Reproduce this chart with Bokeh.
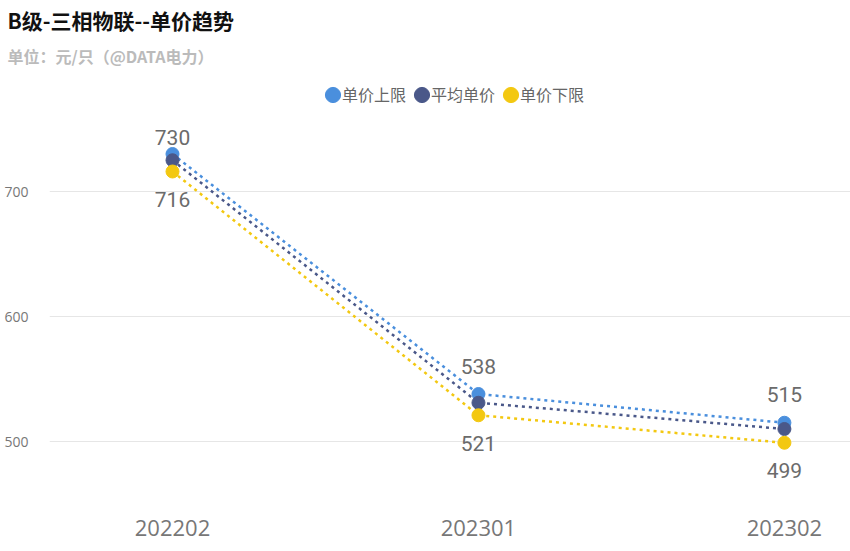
from bokeh.plotting import figure
from bokeh.models import Range1d, FixedTicker, Title, Legend, LegendItem, ColumnDataSource
from bokeh.core.properties import value
from bokeh.embed import file_html
from bokeh.resources import INLINE

periods = ["202202", "202301", "202302"]
upper = [730, 538, 515]
average = [725, 531, 510]
lower = [716, 521, 499]
series_names = ["单价上限", "平均单价", "单价下限"]
colors = ["#4a8fdd", "#4a5889", "#f3c811"]
yticks = [500, 600, 700]

# styling: label offsets in pixels (first upper label pushed down by chart top)
upper_label_offsets = [-17, -28, -28]
lower_label_offsets = [28, 28, 28]

CJK = "Noto Sans CJK SC"
xs = list(range(len(periods)))

p = figure(width=850, height=551, output_backend="svg", toolbar_location=None,
           x_range=Range1d(-0.402, 2.216), y_range=Range1d(450.4, 795.2),
           min_border_left=49, min_border_right=0, min_border_bottom=48,
           min_border_top=0, title=None)
p.outline_line_color = None
p.background_fill_color = "white"
p.border_fill_color = "white"

p.xgrid.visible = False
p.ygrid.grid_line_color = "#e6e6e6"
p.ygrid.grid_line_width = 1.2

p.yaxis.ticker = FixedTicker(ticks=yticks)
p.yaxis.axis_line_color = None
p.yaxis.major_tick_line_color = None
p.yaxis.minor_tick_line_color = None
p.yaxis.major_label_text_color = "#777777"
p.yaxis.major_label_text_font = "Open Sans"
p.yaxis.major_label_text_font_size = "14px"
p.yaxis.major_label_standoff = 15

p.xaxis.ticker = FixedTicker(ticks=xs)
p.xaxis.major_label_overrides = {i: s for i, s in enumerate(periods)}
p.xaxis.axis_line_color = None
p.xaxis.major_tick_line_color = None
p.xaxis.minor_tick_line_color = None
p.xaxis.major_label_text_color = "#777777"
p.xaxis.major_label_text_font = "Open Sans"
p.xaxis.major_label_text_font_size = "22px"
p.xaxis.major_label_standoff = 10

series = [upper, average, lower]
for vals, c in zip(series, colors):
    p.line(xs, vals, line_color=c, line_width=2.5, line_dash="3 4")
for vals, c in zip(series, colors):
    p.scatter(xs, vals, size=13, fill_color=c, line_color=c, marker="circle")

# legend swatches: ellipses with no drawable position -> round dots in the legend only
nan = float("nan")
swatches = []
for c in colors:
    src = ColumnDataSource(dict(x=[nan] * len(xs), y=[nan] * len(xs)))
    r = p.ellipse("x", "y", source=src, width=15, height=15,
                  width_units="screen", height_units="screen",
                  fill_color=c, line_color=c)
    swatches.append(r)

up_src = ColumnDataSource(dict(x=xs, y=upper, t=[str(v) for v in upper], off=upper_label_offsets))
lo_src = ColumnDataSource(dict(x=xs, y=lower, t=[str(v) for v in lower], off=lower_label_offsets))
for src in (up_src, lo_src):
    p.text(x="x", y="y", text="t", y_offset="off", source=src,
           text_align="center", text_baseline="middle",
           text_font=value("Roboto"), text_font_size="21px", text_color="#6b6b6b")

legend = Legend(items=[LegendItem(label=n, renderers=[r]) for n, r in zip(series_names, swatches)],
                orientation="horizontal", location=(274, 397))
legend.border_line_color = None
legend.background_fill_alpha = 0
legend.label_text_font = CJK
legend.label_text_font_size = "16px"
legend.label_text_color = "#666666"
legend.glyph_width = 19
legend.glyph_height = 19
legend.label_standoff = 0
legend.spacing = 6
legend.padding = 0
legend.margin = 0
p.add_layout(legend)

sub = Title(text="单位：元/只（@DATA电力）", text_font=CJK, text_font_size="16px",
            text_font_style="bold", text_color="#bbbbbb", align="left", offset=-42)
p.add_layout(sub, "above")
main = Title(text="B级-三相物联--单价趋势", text_font=CJK, text_font_size="21px",
             text_font_style="bold", text_color="#111111", align="left", offset=-42,
             standoff=4)
p.add_layout(main, "above")

open("out.html", "w").write(file_html(p, INLINE))
